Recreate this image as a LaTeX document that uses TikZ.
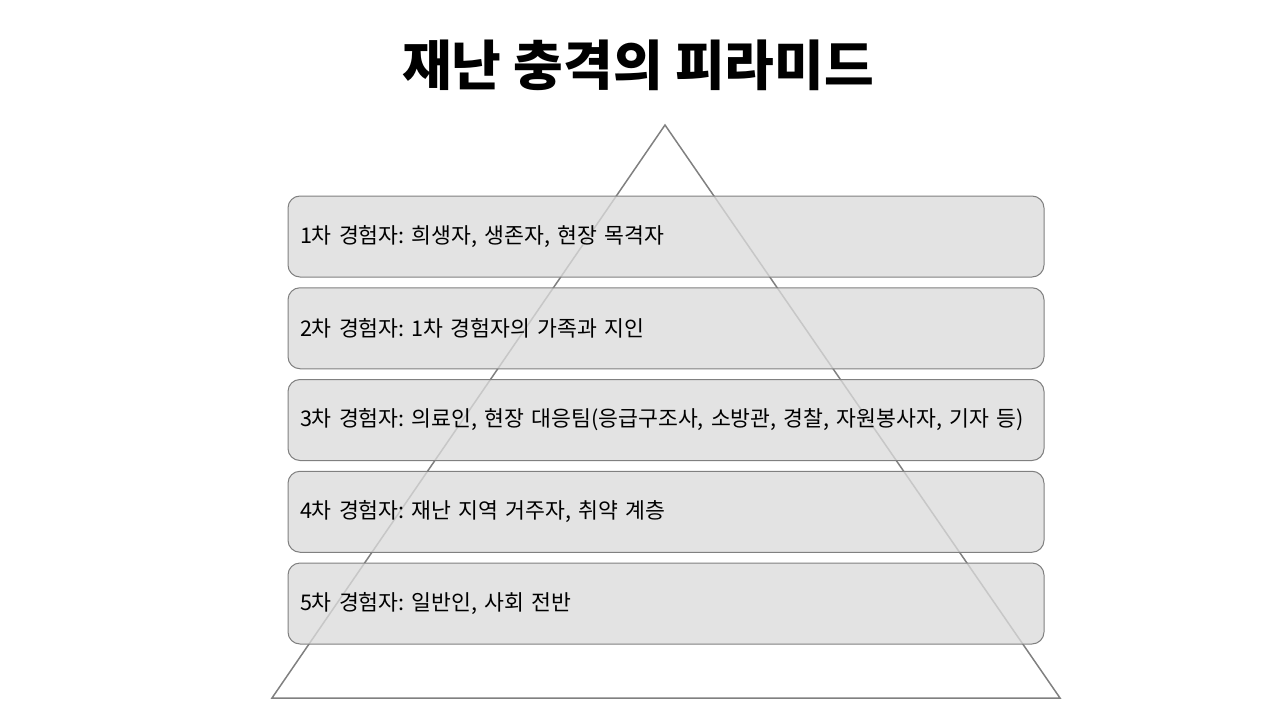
\documentclass[tikz,border=0pt]{standalone}
\usepackage{fontspec}
\setmainfont{Noto Sans CJK KR}
\usetikzlibrary{positioning}
\definecolor{boxgray}{gray}{0.86}
\definecolor{linegray}{gray}{0.5}
\frenchspacing

\begin{document}
\begin{tikzpicture}[x=1pt,y=-1pt]
  \tikzstyle{title}=[font=\fontsize{54}{60}\selectfont\bfseries]
  \tikzstyle{level}=[rectangle,rounded corners=12pt,draw=linegray,line width=1pt,fill=boxgray,fill opacity=0.78,text opacity=1,minimum height=81pt,text width=736pt,inner xsep=10pt,align=left,font=\fontsize{21.6}{26}\selectfont]

  \useasboundingbox (0,0) rectangle (1280,720);

  \node[title] (head) at (638,65) {재난 충격의 피라미드};

  % pyramid
  \coordinate (apex) at (665,125);
  \coordinate (baseL) at (272,698);
  \coordinate (baseR) at (1060,698);
  \draw[linegray,line width=1.5pt] (apex) -- (baseL) -- (baseR) -- cycle;

  % levels
  \node[level] (lv1) at (666,236.5) {\hspace*{2pt}1차 경험자: 희생자, 생존자, 현장 목격자};
  \node[level,below=9.75pt of lv1] (lv2) {\hspace*{2pt}2차 경험자: 1차 경험자의 가족과 지인};
  \node[level,below=9.75pt of lv2] (lv3) {\hspace*{2pt}3차 경험자: 의료인, 현장 대응팀(응급구조사, 소방관, 경찰, 자원봉사자, 기자 등)};
  \node[level,below=9.75pt of lv3] (lv4) {\hspace*{2pt}4차 경험자: 재난 지역 거주자, 취약 계층};
  \node[level,below=9.75pt of lv4] (lv5) {\hspace*{2pt}5차 경험자: 일반인, 사회 전반};
\end{tikzpicture}
\end{document}
